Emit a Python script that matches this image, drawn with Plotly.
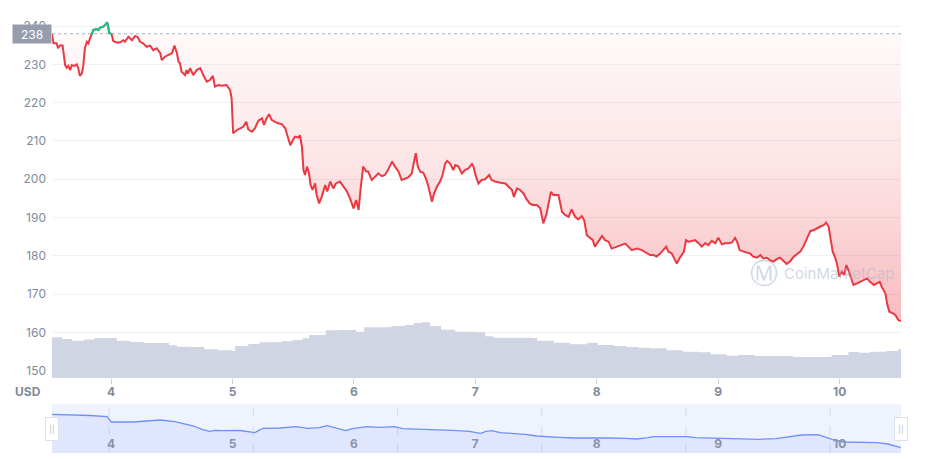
import plotly.graph_objects as go
import pandas as pd

START = "2021-06-03 12:20"
SPAN_HOURS = 167.8
BASE_PRICE = 238

price_hours = [
    0.0, 0.3, 0.9, 1.2, 1.6, 2.1, 2.6, 2.9, 3.2, 3.6, 3.9, 4.5, 4.9, 5.2, 5.5, 5.9, 6.2, 6.5, 6.9, 7.2,
    7.5, 7.8, 8.2, 8.8, 9.2, 9.5, 10.1, 10.5, 10.9, 11.1, 11.3, 11.8, 12.1, 12.8, 13.4, 14.1, 14.4, 15.1,
    15.4, 15.8, 16.4, 16.9, 17.4, 18.0, 18.7, 19.4, 20.0, 20.7, 21.4, 21.7, 22.3, 23.0, 23.7, 24.2, 24.7,
    25.0, 25.3, 25.6, 26.3, 26.6, 26.9, 27.3, 27.9, 28.6, 29.3, 29.9, 30.6, 31.2, 31.8, 32.2, 32.9, 33.5,
    34.5, 35.2, 35.5, 35.8, 36.5, 37.2, 37.8, 38.4, 38.8, 39.5, 40.1, 40.8, 41.5, 41.9, 42.4, 42.9, 43.4,
    44.1, 44.7, 45.4, 46.1, 46.5, 47.1, 47.6, 48.0, 48.7, 49.0, 49.4, 49.7, 50.0, 50.4, 50.8, 51.1, 51.5,
    52.0, 52.3, 52.8, 53.3, 54.0, 54.4, 55.0, 55.6, 56.1, 56.9, 57.6, 58.3, 58.9, 59.6, 60.1, 60.6, 61.0,
    61.5, 62.1, 62.5, 63.2, 63.9, 64.5, 65.2, 65.8, 66.4, 67.2, 67.8, 68.5, 69.1, 69.8, 70.4, 71.1, 71.4,
    71.9, 72.3, 72.8, 73.4, 73.9, 74.4, 74.7, 75.1, 75.5, 76.1, 76.7, 77.2, 77.7, 78.1, 78.7, 79.3, 79.7,
    80.3, 81.0, 81.6, 82.3, 83.0, 83.3, 83.8, 84.3, 84.9, 85.6, 86.4, 86.9, 87.6, 88.6, 89.6, 90.2, 90.9,
    91.3, 91.9, 92.5, 93.2, 93.7, 94.4, 95.0, 95.8, 96.5, 97.1, 97.7, 98.1, 98.6, 99.1, 100.1, 100.8,
    101.4, 102.1, 102.7, 103.4, 104.0, 104.7, 105.2, 105.7, 106.4, 106.9, 107.3, 108.0, 108.7, 109.3,
    110.0, 110.6, 111.6, 112.6, 113.3, 113.9, 114.6, 115.6, 116.6, 117.2, 118.2, 118.9, 119.5, 120.2,
    120.8, 121.4, 121.8, 122.5, 122.8, 123.5, 124.0, 124.5, 124.9, 125.3, 125.8, 126.5, 127.1, 127.8,
    128.4, 129.1, 129.7, 130.4, 131.1, 131.7, 132.4, 133.0, 133.7, 134.4, 135.0, 135.4, 135.9, 136.7,
    137.3, 138.0, 138.6, 139.3, 140.0, 140.6, 141.3, 141.9, 142.6, 143.3, 143.9, 144.6, 145.2, 145.9,
    146.6, 147.2, 147.9, 148.5, 149.2, 149.9, 150.5, 151.2, 151.8, 152.5, 153.0, 153.5, 153.9, 154.3,
    154.8, 155.2, 155.6, 156.1, 156.6, 157.0, 157.4, 157.9, 158.4, 159.1, 159.7, 160.4, 161.1, 161.7,
    162.4, 163.0, 163.6, 164.0, 164.7, 165.1, 165.5, 166.2, 166.7, 167.3, 167.8,
]
price_usd = [
    237.9, 235.5, 235.5, 234.2, 235.0, 234.9, 229.8, 229.1, 229.6, 228.5, 229.8, 229.6, 230.0, 229.0, 227.0, 227.6, 229.8, 234.2, 235.9, 235.5,
    236.8, 237.7, 239.0, 239.2, 239.0, 239.6, 239.8, 240.3, 241.0, 239.8, 238.3, 237.8, 236.1, 235.7, 235.7, 236.3, 235.9, 237.2,
    236.8, 236.3, 237.4, 237.2, 235.9, 235.5, 234.6, 234.9, 233.7, 234.2, 232.9, 231.1, 232.0, 232.4, 232.9, 234.9, 232.9,
    230.7, 230.3, 228.1, 227.2, 228.5, 227.6, 229.0, 227.2, 228.5, 229.0, 227.2, 225.5, 225.9, 227.0, 224.2, 224.6, 224.4,
    224.6, 223.3, 221.1, 212.0, 212.8, 213.3, 213.7, 215.0, 213.0, 212.4, 213.3, 215.3, 215.9, 214.2, 215.9, 217.0, 215.5,
    215.0, 214.6, 214.4, 213.3, 211.5, 208.9, 210.2, 211.1, 210.9, 211.5, 208.5, 202.4, 201.1, 203.3, 201.5, 198.5, 197.2,
    198.9, 195.9, 193.7, 195.4, 198.5, 196.8, 199.4, 197.6, 198.9, 199.4, 198.1, 196.8, 195.0, 192.4, 194.6, 192.0, 197.6,
    203.3, 202.0, 202.0, 199.8, 200.7, 201.5, 200.8, 201.1, 202.4, 204.6, 203.3, 202.0, 199.8, 200.2, 200.5, 201.5, 203.7,
    206.8, 203.3, 202.0, 201.7, 200.2, 198.1, 196.3, 194.1, 196.3, 198.1, 199.4, 201.1, 204.1, 204.8, 204.1, 202.4, 203.7,
    203.4, 201.5, 202.4, 202.8, 204.0, 203.3, 200.7, 198.9, 199.8, 200.0, 201.1, 199.8, 199.4, 199.1, 198.9, 198.1, 197.2,
    195.4, 197.6, 197.2, 196.3, 195.0, 193.7, 193.3, 193.3, 192.4, 188.5, 190.7, 193.7, 196.7, 195.9, 195.9, 191.5,
    190.7, 190.2, 192.1, 190.2, 189.5, 190.4, 189.3, 185.4, 184.6, 184.1, 182.4, 183.7, 185.2, 184.1,
    183.7, 181.9, 182.4, 182.8, 183.2, 182.4, 181.5, 181.9, 181.5, 181.0, 180.2, 180.2, 179.8, 180.6,
    181.5, 182.4, 181.1, 180.6, 179.8, 178.0, 179.3, 180.2, 181.1, 184.1, 183.7, 183.9, 184.1, 183.3,
    182.4, 183.3, 182.8, 183.9, 183.3, 184.7, 183.0, 183.3, 183.3, 183.5, 184.7, 183.7, 181.5, 181.1,
    180.9, 180.6, 179.8, 179.5, 180.2, 179.3, 179.5, 178.9, 178.5, 179.2, 179.5, 178.5, 177.9, 178.6,
    179.8, 180.4, 181.1, 182.4, 184.6, 186.5, 186.7, 187.3, 187.6, 188.0, 188.7, 187.6, 184.1, 181.1,
    179.5, 177.6, 174.6, 175.9, 175.0, 177.6, 176.3, 174.1, 172.4, 172.8, 173.2, 173.7, 174.1, 173.2,
    172.4, 172.8, 173.2, 171.9, 170.2, 167.2, 165.4, 165.0, 164.5, 163.2, 163.0,
]

vol_hours = [
    0.0, 2.0, 4.0, 6.3, 8.4, 11.7, 12.8, 15.4, 18.2, 21.4, 23.1, 24.7, 26.9, 30.1, 32.8, 35.6, 36.2,
    38.8, 41.0, 45.4, 47.5, 49.5, 50.8, 54.1, 56.9, 59.5, 60.1, 61.7, 67.1, 69.8, 71.5, 73.1, 74.7,
    76.9, 79.7, 84.0, 85.6, 87.2, 94.9, 95.9, 99.2, 102.4, 105.8, 107.9, 111.1, 113.5, 116.0, 118.2,
    121.5, 124.7, 128.0, 130.2, 133.4, 135.6, 138.9, 143.1, 146.5, 151.9, 154.1, 157.4, 159.5, 161.7,
    164.9, 167.2, 167.8,
]
vol_musd = [
    1106, 1060, 1013, 1046, 1087, 1087, 1013, 978, 951, 951, 888, 850, 842, 780, 753, 742, 869,
    924, 970, 997, 1032, 1079, 1168, 1296, 1304, 1312, 1258, 1378, 1413, 1440, 1494, 1513, 1413,
    1312, 1258, 1242, 1133, 1095, 1087, 1013, 959, 916, 959, 897, 869, 842, 823, 807,
    753, 715, 698, 644, 606, 625, 598, 598, 571, 571, 625, 706, 687, 715,
    734, 788, 788,
]

nav_hours = [
    0.0, 3.6, 7.5, 10.9, 11.3, 11.7, 16.0, 19.7, 21.4, 24.3, 26.5, 28.0, 29.6, 31.2, 32.2, 34.0, 37.2,
    39.1, 40.1, 40.8, 41.7, 45.1, 48.3, 50.5, 52.8, 54.4, 55.5, 58.0, 59.4, 62.1, 64.9, 67.6, 69.3,
    72.6, 75.9, 79.2, 82.5, 84.7, 85.8, 86.9, 88.6, 90.8, 93.5, 95.8, 97.4, 100.2, 103.5, 106.8, 110.1,
    113.4, 115.6, 117.8, 118.9, 122.2, 125.5, 127.2, 129.9, 133.2, 136.5, 139.8, 143.1, 145.4, 148.1,
    151.4, 152.5, 154.2, 156.4, 159.7, 163.0, 165.2, 166.9, 167.8,
]
nav_values = [
    236.9, 236.4, 234.2, 231.5, 224.1, 219.6, 219.6, 222.5, 224.1, 220.3, 215.1, 210.6, 203.2, 198.7, 201.0, 200.1, 200.5,
    197.8, 195.6, 200.1, 205.5, 206.1, 209.0, 205.5, 206.8, 211.3, 207.7, 200.1, 204.6, 209.0, 207.7, 209.0, 204.6,
    203.9, 203.2, 201.0, 198.7, 194.2, 198.7, 200.1, 195.6, 194.2, 192.0, 188.2, 186.6, 185.2, 183.7, 184.3, 183.7,
    183.0, 181.4, 184.3, 186.6, 186.6, 186.6, 184.3, 183.7, 182.1, 181.4, 180.8, 182.1, 185.2, 190.4,
    191.1, 186.6, 180.8, 174.7, 174.0, 173.1, 170.2, 164.1, 161.9,
]
nav_grid_hours = [11.3, 39.8, 68.3, 96.8, 125.3, 153.8]
y_ticks = [150, 160, 170, 180, 190, 200, 210, 220, 230, 240]

RED = "#ea3943"
GREEN = "#16c784"
GRAY = "#808a9d"

# the page body has an 8px margin; the figure is sized to fill the rest
FIG_W, FIG_H = 917, 451
M_L, M_R, M_T, M_B = 44, 24, 2, 6
PLOT_H = FIG_H - M_T - M_B  # 443
MAIN_BOTTOM = 75   # px above figure plot-area bottom
NAV_TOP = 49

t0 = pd.Timestamp(START)


def to_time(hours):
    return [t0 + pd.Timedelta(hours=h) for h in hours]


px_t = to_time(price_hours)
x_range = [t0, t0 + pd.Timedelta(hours=SPAN_HOURS)]
day_ticks = [t0.normalize() + pd.Timedelta(days=k) for k in range(1, 8)]
day_text = [str(d.day) for d in day_ticks]

n = len(price_usd)
above = [p > BASE_PRICE for p in price_usd]
green_y = [
    p if (above[i] or (i > 0 and above[i - 1]) or (i < n - 1 and above[i + 1])) else None
    for i, p in enumerate(price_usd)
]

fig = go.Figure()

fig.add_trace(go.Scatter(
    x=[x_range[0], x_range[1]], y=[BASE_PRICE, BASE_PRICE], mode="lines",
    line=dict(color="#a9b2c3", width=1, dash="dot"), hoverinfo="skip",
    xaxis="x", yaxis="y",
))
fig.add_trace(go.Scatter(
    x=px_t, y=price_usd, mode="lines", line=dict(color=RED, width=2),
    fill="tonexty",
    fillgradient=dict(
        type="vertical",
        colorscale=[[0, "rgba(234,57,67,0.34)"], [0.5, "rgba(234,57,67,0.14)"], [1, "rgba(234,57,67,0.02)"]],
    ),
    xaxis="x", yaxis="y",
))
fig.add_trace(go.Scatter(
    x=px_t, y=green_y, mode="lines", line=dict(color=GREEN, width=2),
    connectgaps=False, xaxis="x", yaxis="y",
))
fig.add_trace(go.Scatter(
    x=to_time(vol_hours), y=vol_musd, mode="lines", line=dict(width=0, shape="hv", color="#cfd5e2"),
    fill="tozeroy", fillcolor="#cfd5e2", xaxis="x", yaxis="y3",
))
fig.add_trace(go.Scatter(
    x=to_time(nav_hours), y=nav_values, mode="lines", line=dict(color="#6f91f5", width=1.3),
    fill="tozeroy", fillcolor="rgba(120,150,245,0.13)", xaxis="x2", yaxis="y2",
))

shapes = [dict(type="rect", xref="x2 domain", yref="y2 domain", x0=0, x1=1, y0=0, y1=1,
               fillcolor="#eff3fe", line=dict(width=0), layer="below")]
for h in nav_grid_hours:
    t = t0 + pd.Timedelta(hours=h)
    shapes.append(dict(type="line", xref="x2", yref="y2 domain", x0=t, x1=t, y0=0, y1=1,
                       line=dict(color="#d3daf0", width=1, dash="dash"), layer="below"))

wm_y = (378 - 273) / 368
annotations = [
    dict(text="238", xref="paper", x=0, xanchor="right", yref="y", y=BASE_PRICE, yanchor="middle",
         showarrow=False, bgcolor="#959cac", font=dict(color="white", size=12), width=36, height=16),
    dict(text="<b>USD</b>", xref="paper", x=0, xanchor="right", xshift=-9, yref="y domain", y=0,
         yanchor="middle", yshift=-13, showarrow=False, font=dict(color=GRAY, size=12)),
    dict(text="Ⓜ", xref="paper", x=(764 - 52) / 849, xanchor="center", yref="y domain",
         y=wm_y, yanchor="middle", showarrow=False,
         font=dict(color="rgba(170,182,205,0.55)", size=28, family="DejaVu Sans")),
    dict(text="CoinMarketCap", xref="paper", x=(782 - 52) / 849, xanchor="left", yref="y domain",
         y=wm_y, yanchor="middle", showarrow=False,
         font=dict(color="rgba(170,182,205,0.55)", size=15, family="Inter")),
    dict(text="||", xref="paper", x=0, xanchor="center", yref="y2 domain", y=0.5, yanchor="middle",
         showarrow=False, bgcolor="white", bordercolor="#dde2ea", borderwidth=1, borderpad=2,
         font=dict(color="#b5bcc9", size=8), width=8, height=18),
    dict(text="||", xref="paper", x=1, xanchor="center", yref="y2 domain", y=0.5, yanchor="middle",
         showarrow=False, bgcolor="white", bordercolor="#dde2ea", borderwidth=1, borderpad=2,
         font=dict(color="#b5bcc9", size=8), width=8, height=18),
]

fig.update_layout(
    width=FIG_W, height=FIG_H,
    margin=dict(l=M_L, r=M_R, t=M_T, b=M_B),
    paper_bgcolor="white", plot_bgcolor="white",
    showlegend=False,
    font=dict(family="Inter, Roboto, sans-serif", color=GRAY),
    xaxis=dict(domain=[0, 1], anchor="y", type="date", range=x_range,
               tickvals=day_ticks, ticktext=day_text, ticks="outside", ticklen=5,
               tickcolor="#c9ced8", showgrid=False, zeroline=False, showline=False,
               ticklabelstandoff=-2,
               tickfont=dict(size=12, color=GRAY, weight="bold")),
    yaxis=dict(domain=[MAIN_BOTTOM / PLOT_H, 1], anchor="x", range=[148.1, 244.2],
               tickvals=y_ticks, gridcolor="#eff2f5", gridwidth=1, zeroline=False,
               showline=False, ticks="", ticklabelstandoff=5,
               tickfont=dict(size=12, color=GRAY)),
    yaxis3=dict(overlaying="y", anchor="x", range=[0, 10000], visible=False),
    xaxis2=dict(domain=[0, 1], anchor="y2", type="date", range=x_range,
                tickvals=day_ticks, ticktext=day_text, ticks="", showgrid=False,
                zeroline=False, showline=False, ticklabelposition="inside",
                tickfont=dict(size=12, color="#8a93a6", weight="bold")),
    yaxis2=dict(domain=[0, NAV_TOP / PLOT_H], anchor="x2", range=[150, 260], visible=False),
    shapes=shapes,
    annotations=annotations,
)

fig.write_html("out.html")
